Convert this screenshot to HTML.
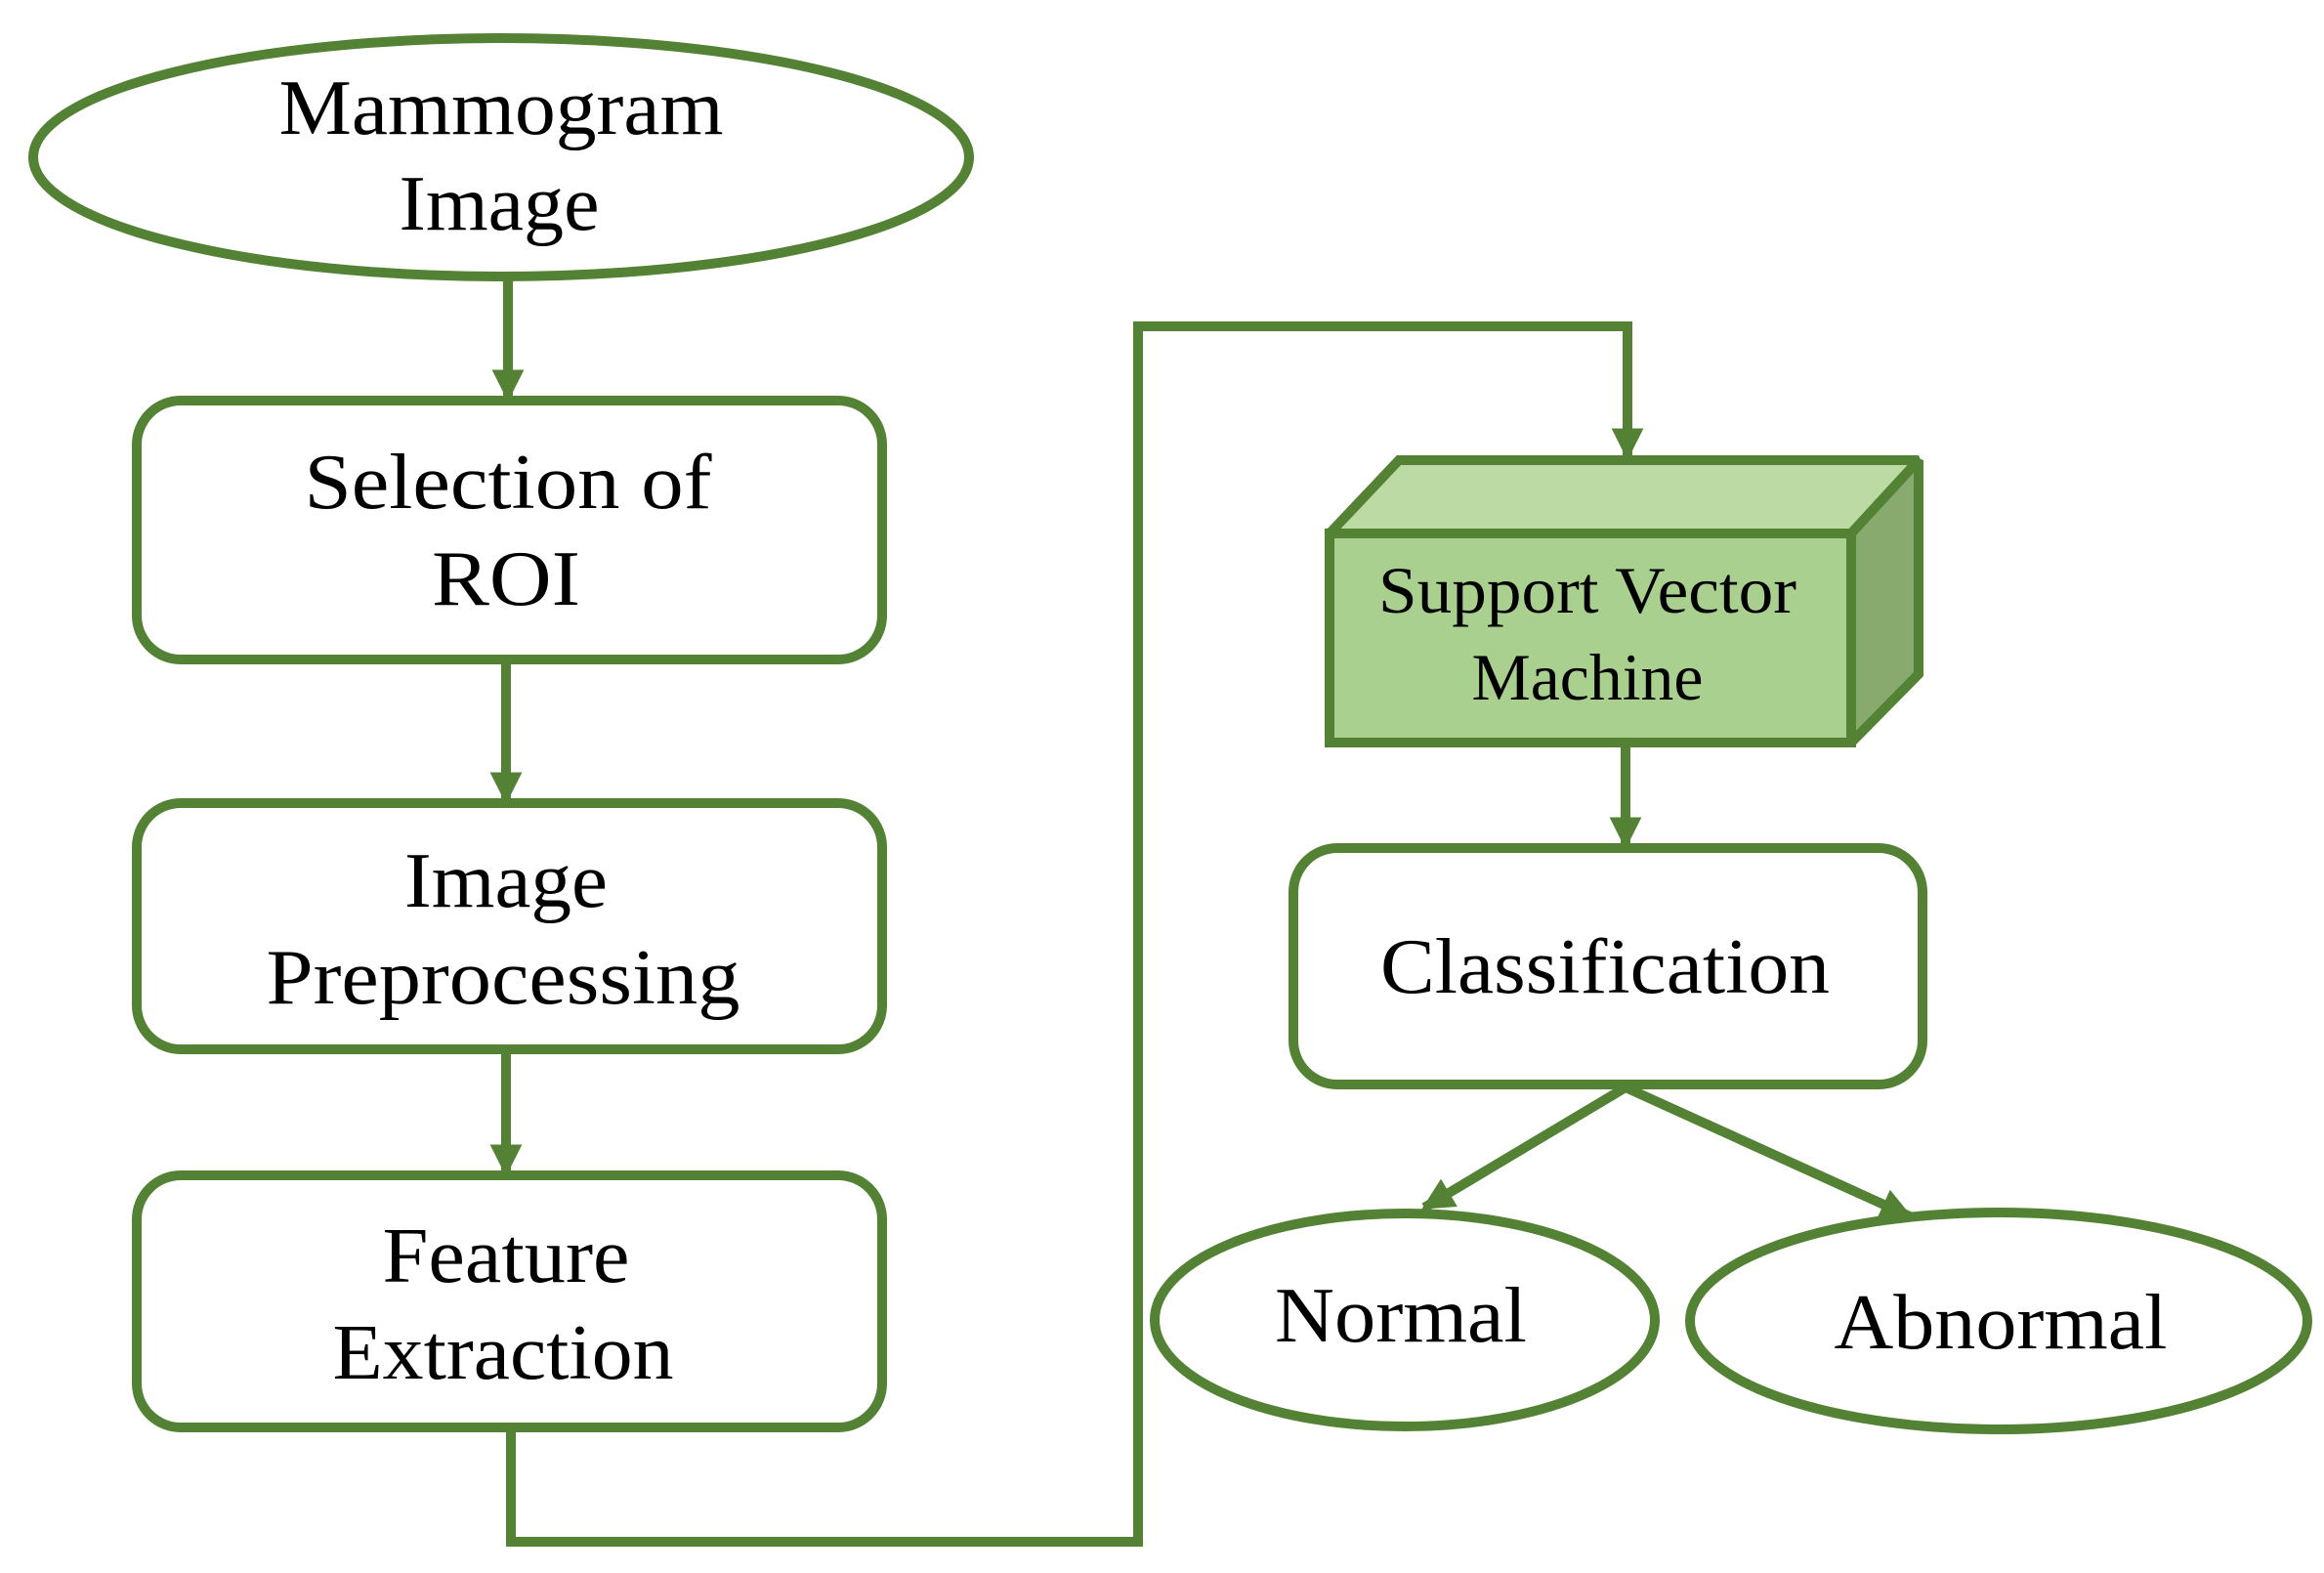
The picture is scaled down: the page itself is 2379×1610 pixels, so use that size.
<!DOCTYPE html>
<html><head><meta charset="utf-8"><style>html,body{margin:0;padding:0;background:#fff}svg{display:block}</style></head>
<body>
<svg width="2379" height="1610" viewBox="0 0 2379 1610" xmlns="http://www.w3.org/2000/svg">
<defs>
<marker id="ar" viewBox="0 0 10 10" refX="9" refY="5" markerWidth="3.3" markerHeight="3.3" orient="auto" markerUnits="strokeWidth">
<path d="M0,0 L10,5 L0,10 z" fill="#548235"/>
</marker>
</defs>
<g fill="none" stroke="#548235" stroke-width="10">
<ellipse cx="513" cy="161" rx="479" ry="122"/>
<rect x="140" y="410" width="763" height="265" rx="45"/>
<rect x="140" y="822" width="763" height="252" rx="45"/>
<rect x="140" y="1203" width="763" height="258" rx="45"/>
<rect x="1324" y="868" width="644" height="242" rx="45"/>
<ellipse cx="1438" cy="1351" rx="256" ry="109"/>
<ellipse cx="2046" cy="1352" rx="316" ry="111"/>
<line x1="520" y1="285" x2="520" y2="408" marker-end="url(#ar)"/>
<line x1="518" y1="675" x2="518" y2="820" marker-end="url(#ar)"/>
<line x1="518" y1="1074" x2="518" y2="1201" marker-end="url(#ar)"/>
<polyline points="523,1461 523,1578 1165,1578 1165,334 1666,334 1666,468" marker-end="url(#ar)"/>
<line x1="1664" y1="762" x2="1664" y2="866" marker-end="url(#ar)"/>
<line x1="1664" y1="1113" x2="1458" y2="1236" marker-end="url(#ar)"/>
<line x1="1664" y1="1113" x2="1955" y2="1245" marker-end="url(#ar)"/>
</g>
<g stroke="#548235" stroke-width="10" stroke-linejoin="miter" stroke-miterlimit="2">
<polygon points="1361,546 1432,471 1964,471 1895,546" fill="#bcdaa4"/>
<polygon points="1895,546 1964,471 1964,690 1895,760" fill="#88aa6e"/>
<rect x="1361" y="546" width="534" height="214" fill="#a9d08e"/>
</g>
<g font-family="'Liberation Serif', serif" font-size="80" fill="#000" text-anchor="middle">
<text x="513" y="137" textLength="455" lengthAdjust="spacingAndGlyphs">Mammogram</text>
<text x="511" y="235" textLength="205" lengthAdjust="spacingAndGlyphs">Image</text>
<text x="520" y="520" textLength="417" lengthAdjust="spacingAndGlyphs">Selection of</text>
<text x="518" y="619" textLength="152" lengthAdjust="spacingAndGlyphs">ROI</text>
<text x="518" y="928" textLength="208" lengthAdjust="spacingAndGlyphs">Image</text>
<text x="515" y="1027" textLength="485" lengthAdjust="spacingAndGlyphs">Preprocessing</text>
<text x="518" y="1312" textLength="253" lengthAdjust="spacingAndGlyphs">Feature</text>
<text x="515" y="1411" textLength="349" lengthAdjust="spacingAndGlyphs">Extraction</text>
<text x="1625" y="627" font-size="68" textLength="428" lengthAdjust="spacingAndGlyphs">Support Vector</text>
<text x="1625" y="716" font-size="68" textLength="237" lengthAdjust="spacingAndGlyphs">Machine</text>
<text x="1643" y="1016" textLength="460" lengthAdjust="spacingAndGlyphs">Classification</text>
<text x="1434" y="1373" textLength="258" lengthAdjust="spacingAndGlyphs">Normal</text>
<text x="2048" y="1380" textLength="341" lengthAdjust="spacingAndGlyphs">Abnormal</text>
</g>
</svg>
</body></html>
